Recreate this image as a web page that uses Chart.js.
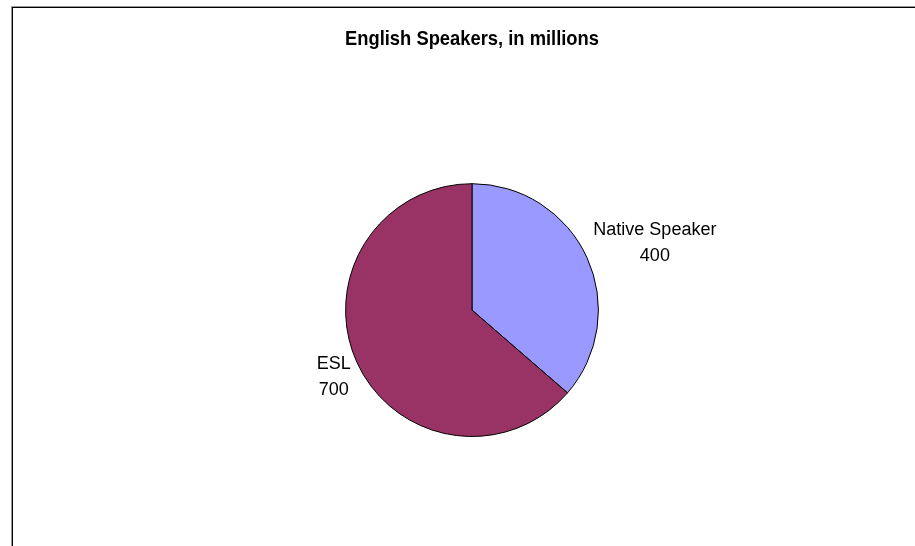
<!DOCTYPE html>
<html>
<head>
<meta charset="utf-8">
<script src="https://cdn.jsdelivr.net/npm/chart.js@4/dist/chart.umd.min.js"></script>
<style>
  html, body { margin: 0; padding: 0; background: #fff; }
  #wrap { position: relative; width: 915px; height: 546px; overflow: hidden; }
  #frame { position: absolute; left: 11px; top: 6px; width: 1000px; height: 700px;
           border-left: 1px solid #999; border-top: 1px solid #999; }
  #frame2 { position: absolute; left: 12px; top: 7px; width: 1000px; height: 700px;
            border-left: 1px solid #000; border-top: 1px solid #000; }
  canvas { position: absolute; left: 0; top: 0; }
</style>
</head>
<body>
<div id="wrap">
  <div id="frame"></div>
  <div id="frame2"></div>
  <canvas id="myChart" width="915" height="546"></canvas>
</div>
<script>
const categories = ['Native Speaker', 'ESL'];
const speakers = [400, 700];
const sliceColors = ['#9999FF', '#993366'];

// data labels outside the pie, Excel style: name on one line, value below
const outsideLabels = {
  id: 'outsideLabels',
  afterDatasetsDraw(chart) {
    const ctx = chart.ctx;
    const meta = chart.getDatasetMeta(0);
    ctx.save();
    ctx.font = '18px "Liberation Sans", Arial, sans-serif';
    ctx.fillStyle = '#000';
    ctx.textAlign = 'center';
    ctx.textBaseline = 'middle';
    const lineH = 26;
    meta.data.forEach((arc, i) => {
      const p = arc.getProps(['x', 'y', 'startAngle', 'endAngle', 'outerRadius'], true);
      const mid = (p.startAngle + p.endAngle) / 2;
      const dx = Math.cos(mid), dy = Math.sin(mid);
      const lines = [categories[i], String(speakers[i])];
      const w = Math.max(...lines.map(t => ctx.measureText(t).width));
      const h = lines.length * lineH;
      const ax = p.x + dx * (p.outerRadius + 7);
      const ay = p.y + dy * (p.outerRadius + 7);
      const cx = ax + Math.sign(dx) * w / 2;
      const cy = ay + dy * h * 0.55;
      lines.forEach((t, j) => {
        ctx.fillText(t, cx, cy + (j - (lines.length - 1) / 2) * lineH);
      });
    });
    ctx.restore();
  }
};

const myChart = new Chart(document.getElementById('myChart'), {
  type: 'pie',
  data: {
    labels: categories,
    datasets: [{
      data: speakers,
      backgroundColor: sliceColors,
      borderColor: '#000',
      borderWidth: 1
    }]
  },
  options: {
    responsive: false,
    animation: false,
    layout: { padding: { left: 345, right: 316, top: 0, bottom: 109 } },
    plugins: {
      legend: { display: false },
      tooltip: { enabled: false },
      title: {
        display: true,
        text: 'English Speakers, in millions',
        color: '#000',
        font: { family: '"Liberation Sans", Arial, sans-serif', size: 21, weight: 'bold', lineHeight: 1.2 },
        padding: { top: 27, bottom: 131 }
      }
    }
  },
  plugins: [outsideLabels]
});
</script>
</body>
</html>
